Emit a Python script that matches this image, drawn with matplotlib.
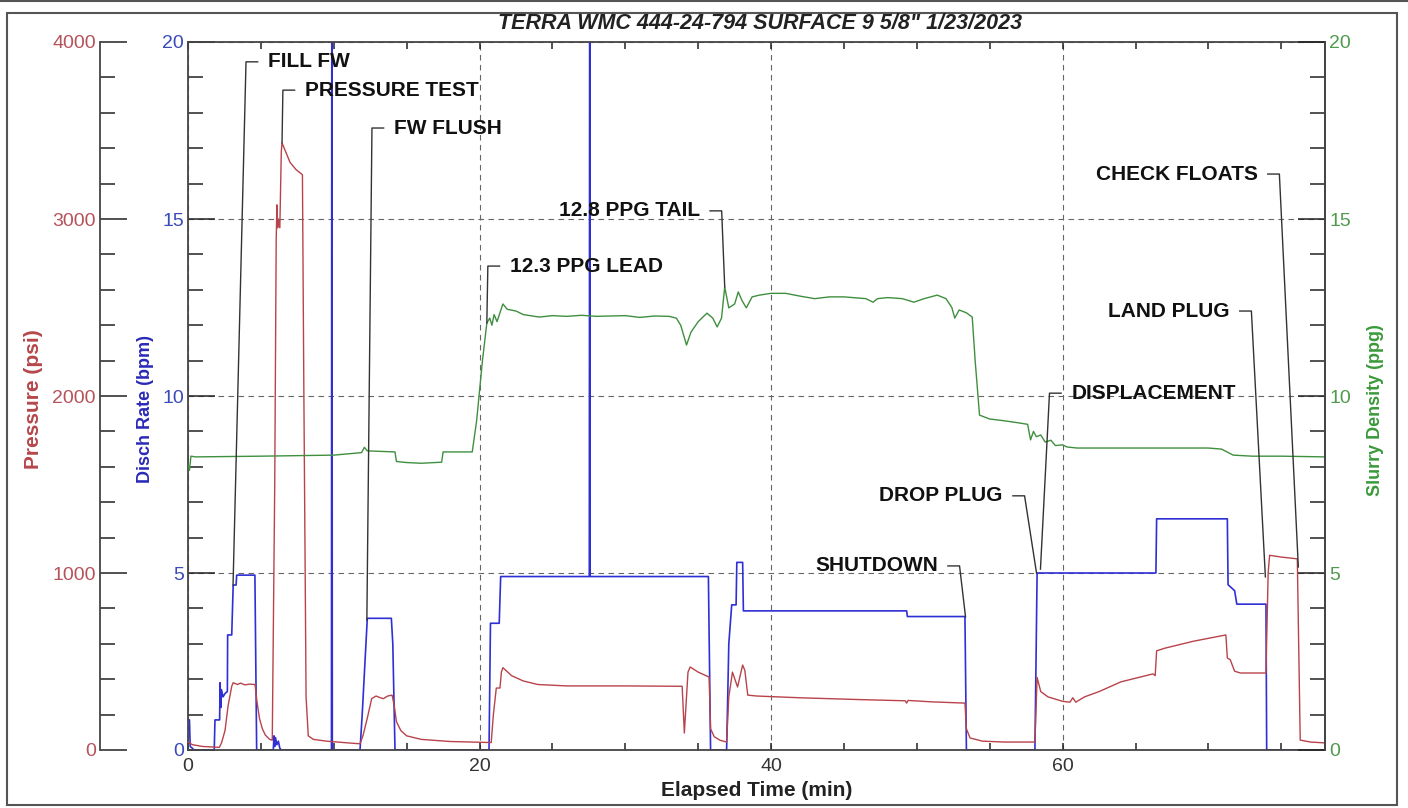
import matplotlib
matplotlib.use("Agg")
import matplotlib.pyplot as plt
from matplotlib.patches import Rectangle
from matplotlib.lines import Line2D
from matplotlib.ticker import MultipleLocator

plt.rcParams["font.family"] = ["Liberation Sans", "DejaVu Sans"]

# --- data ---
rate_t = [0.0, 0.1, 0.15, 0.3, 0.4, 1.80, 1.85, 2.17, 2.2, 2.25, 2.3, 2.4, 2.55, 2.7, 2.72, 3.0,
          3.1, 3.3, 3.34, 4.59, 4.71, 5.85, 5.9, 5.95, 6.0, 6.1, 6.2, 6.3, 6.4, 9.84, 9.87, 9.90,
          11.8, 11.95, 12.3, 13.95, 14.05, 14.2, 20.65, 20.75, 21.35, 21.45, 21.6, 27.53, 27.56,
          27.59, 35.7, 35.85, 36.95, 37.1, 37.3, 37.6, 37.65, 38.05, 38.1, 38.4, 38.45, 49.3,
          49.35, 53.3, 53.4, 58.1, 58.25, 66.4, 66.45, 71.3, 71.35, 71.8, 71.95, 73.95, 74.0, 78.0]
rate_v = [0.85, 0.85, 0.1, 0.05, 0.0, 0.0, 0.85, 0.85, 1.9, 1.2, 1.7, 1.5, 1.6, 1.65, 3.25, 3.25,
          4.66, 4.66, 4.94, 4.94, 0.0, 0.0, 0.4, 0.1, 0.35, 0.15, 0.25, 0.05, 0.0, 0.0, 25.0, 0.0,
          0.0, 1.0, 3.72, 3.72, 3.0, 0.0, 0.0, 3.58, 3.58, 4.9, 4.9, 4.9, 25.0,
          4.9, 4.9, 0.0, 0.0, 3.0, 4.1, 4.1, 5.3, 5.3, 3.93, 3.93, 3.93, 3.93,
          3.77, 3.77, 0.0, 0.0, 5.0, 5.0, 6.53, 6.53, 4.67, 4.5, 4.12, 4.12, 0.0, 0.0]

pres_t = [0.0, 0.3, 1.0, 2.15, 2.3, 2.54, 2.75, 3.0, 3.1, 3.4, 3.6, 3.9, 4.2, 4.6, 4.72, 4.9,
          5.1, 5.3, 5.6, 5.78, 5.95, 6.05, 6.1, 6.15, 6.2, 6.3, 6.4, 6.45, 6.7, 7.0, 7.4, 7.85,
          7.95, 8.1, 8.25, 8.6, 9.5, 11.0, 11.8, 12.0, 12.3, 12.6, 12.9, 13.2, 13.4, 13.7, 14.0,
          14.15, 14.3, 14.6, 15.0, 16.0, 18.0, 20.8, 20.95, 21.15, 21.4, 21.5, 21.6, 22.2, 23.0,
          24.0, 26.0, 30.0, 33.9, 34.05, 34.3, 34.45, 35.0, 35.75, 35.85, 36.1, 36.5, 36.95,
          37.1, 37.35, 37.7, 38.05, 38.2, 38.4, 39.0, 42.0, 46.0, 49.2, 49.3, 49.4, 51.0, 53.3,
          53.4, 53.65, 54.5, 56.0, 58.1, 58.25, 58.5, 59.0, 60.0, 60.5, 60.7, 60.9, 61.5, 62.5,
          64.0, 66.2, 66.35, 66.45, 67.0, 69.0, 71.2, 71.3, 71.5, 71.8, 72.2, 73.95, 74.1, 74.2,
          75.0, 76.1, 76.3, 77.0, 78.0]
pres_v = [45, 30, 20, 15, 40, 110, 250, 360, 380, 370, 378, 368, 372, 370, 280, 180,
          120, 85, 60, 55, 1500, 2880, 3080, 2950, 3000, 2950, 3380, 3430, 3380, 3320, 3280, 3250,
          2000, 300, 80, 60, 50, 40, 35, 80, 180, 290, 305, 295, 290, 305, 310,
          250, 160, 110, 80, 60, 48, 42, 200, 350, 350, 440, 465, 420, 390,
          370, 362, 362, 360, 96, 440, 469, 440, 412, 120, 75, 55, 45,
          300, 440, 356, 480, 450, 310, 305, 295, 285, 278, 265, 280, 272, 265,
          120, 68, 50, 45, 45, 410, 330, 300, 275, 270, 295, 270, 300, 330,
          385, 430, 420, 560, 575, 615, 650, 520, 510, 445, 435, 435, 1000, 1100,
          1090, 1080, 56, 45, 40]

dens_t = [0.0, 0.1, 0.2, 0.5, 5.0, 10.0, 11.9, 12.1, 12.3, 14.2, 14.3, 15.0, 16.0, 17.4, 17.5,
          19.5, 19.8, 20.2, 20.5, 20.7, 20.85, 21.0, 21.2, 21.6, 21.9, 22.5, 23.0, 24.1, 25.0,
          26.0, 27.0, 28.0, 30.0, 31.0, 32.0, 33.0, 33.5, 33.8, 34.2, 34.5, 35.0, 35.6, 36.0,
          36.3, 36.6, 36.82, 37.1, 37.5, 37.75, 38.0, 38.3, 38.7, 39.2, 40.0, 41.0, 42.0, 43.0,
          44.0, 45.0, 46.5, 47.0, 47.3, 48.0, 49.0, 49.8, 50.5, 51.4, 52.0, 52.4, 52.6, 52.9,
          53.4, 53.8, 54.0, 54.3, 55.0, 56.0, 57.0, 57.6, 57.8, 58.0, 58.2, 58.5, 58.8, 59.2,
          59.5, 60.0, 60.3, 61.0, 65.0, 70.0, 70.9, 71.7, 73.0, 75.0, 78.0]
dens_v = [8.05, 7.9, 8.3, 8.28, 8.3, 8.33, 8.4, 8.55, 8.45, 8.42, 8.15, 8.12, 8.1, 8.13, 8.42,
          8.42, 9.3, 11.0, 12.06, 12.2, 12.0, 12.3, 12.1, 12.6, 12.45, 12.4, 12.3, 12.23, 12.27,
          12.25, 12.28, 12.25, 12.27, 12.22, 12.26, 12.25, 12.2, 12.0, 11.44, 11.8, 12.1, 12.34, 12.2,
          11.95, 12.2, 13.08, 12.49, 12.6, 12.94, 12.7, 12.49, 12.8, 12.85, 12.9, 12.9, 12.82, 12.75,
          12.8, 12.8, 12.75, 12.65, 12.75, 12.78, 12.75, 12.65, 12.75, 12.85, 12.75, 12.5, 12.2, 12.43,
          12.35, 12.23, 11.0, 9.46, 9.35, 9.3, 9.24, 9.2, 8.76, 9.0, 8.85, 8.9, 8.7, 8.75,
          8.6, 8.62, 8.56, 8.53, 8.53, 8.53, 8.5, 8.33, 8.3, 8.3, 8.28]

# job events: label, time of the marked point, level on the 0-20 scale
event_labels = ["FILL FW", "PRESSURE TEST", "FW FLUSH", "12.3 PPG LEAD", "12.8 PPG TAIL",
                "SHUTDOWN", "DROP PLUG", "DISPLACEMENT", "LAND PLUG", "CHECK FLOATS"]
event_t = [3.09, 6.45, 12.27, 20.5, 36.82, 53.34, 58.21, 58.48, 73.91, 76.17]
event_v = [4.66, 17.15, 3.67, 12.06, 13.08, 3.76, 5.0, 5.11, 4.89, 5.17]
# where each label's leader bends, and which side the text sits
label_t = [3.98, 6.51, 12.62, 20.57, 36.61, 52.93, 57.39, 59.10, 72.95, 74.87]
label_v = [19.44, 18.64, 17.57, 13.67, 15.23, 5.20, 7.18, 10.08, 12.40, 16.27]
label_side = [1, 1, 1, 1, -1, -1, -1, 1, -1, -1]

RED = "#b8434a"
BLUE = "#2f2fd6"
GREEN = "#3f8f3f"
AX = "#444444"
TICK_FS = 14

fig = plt.figure(figsize=(14.08, 8.08), dpi=100)
ax = fig.add_axes([188 / 1408, 1 - 750 / 808, 1137 / 1408, 708 / 808])
axp = ax.twinx()
axd = ax.twinx()

# rate axis (main, left spine)
ax.set_xlim(0, 78)
ax.set_ylim(0, 20)
ax.xaxis.set_major_locator(MultipleLocator(20))
ax.xaxis.set_minor_locator(MultipleLocator(5))
ax.yaxis.set_major_locator(MultipleLocator(5))
ax.yaxis.set_minor_locator(MultipleLocator(1))
ax.tick_params(axis="y", which="major", direction="in", length=19.5, width=1.1,
               color="#222222", labelcolor="#3a4ab8", labelsize=TICK_FS, pad=3)
ax.tick_params(axis="y", which="minor", direction="in", length=11, width=1.1, color="#222222")
ax.tick_params(axis="x", which="both", direction="in", length=5, width=1.1, top=True,
               color="#222222", labelcolor="#333333", labelsize=TICK_FS, pad=6)
ax.grid(True, which="major", linestyle=(0, (5, 4)), color="#666666", linewidth=0.8)
for s in ax.spines.values():
    s.set_color(AX)
    s.set_linewidth(1.3)

# pressure axis, spine pushed out to the left
axp.set_ylim(0, 4000)
axp.spines["left"].set_position(("axes", -88 / 1137))
axp.spines["left"].set_visible(True)
axp.spines["left"].set_color(AX)
axp.spines["left"].set_linewidth(1.3)
axp.spines["right"].set_visible(False)
axp.spines["top"].set_visible(False)
axp.spines["bottom"].set_visible(False)
axp.yaxis.set_ticks_position("left")
axp.yaxis.set_major_locator(MultipleLocator(1000))
axp.yaxis.set_minor_locator(MultipleLocator(200))
axp.tick_params(axis="y", which="major", direction="in", length=19.5, width=1.1,
                color="#222222", labelcolor="#b5525a", labelsize=TICK_FS, pad=3)
axp.tick_params(axis="y", which="minor", direction="in", length=11, width=1.1, color="#222222")

# density axis, right
axd.set_ylim(0, 20)
axd.spines["right"].set_color(AX)
axd.spines["right"].set_linewidth(1.3)
for k in ("left", "top", "bottom"):
    axd.spines[k].set_visible(False)
axd.yaxis.set_major_locator(MultipleLocator(5))
axd.yaxis.set_minor_locator(MultipleLocator(1))
axd.tick_params(axis="y", which="major", direction="in", length=19.5, width=1.1,
                color="#222222", labelcolor="#4f9a4f", labelsize=TICK_FS, pad=3)
axd.tick_params(axis="y", which="minor", direction="in", length=11, width=1.1, color="#222222")

axp.plot(pres_t, pres_v, color=RED, lw=1.0)
ax.plot(rate_t, rate_v, color=BLUE, lw=1.2)
axd.plot(dens_t, dens_v, color=GREEN, lw=1.0)

# event leaders and labels
for lab, et, ev, lt, lv, sd in zip(event_labels, event_t, event_v, label_t, label_v, label_side):
    axd.plot([lt + sd * 0.8, lt, et], [lv, lv, ev], color="#333333", lw=1.0)
    axd.text(lt + sd * 1.5, lv, lab, ha="left" if sd > 0 else "right", va="center",
             fontsize=15, fontweight="bold", color="#111111")

fig.text(0.54, 0.971, 'TERRA WMC 444-24-794 SURFACE 9 5/8" 1/23/2023', ha="center", va="center",
         fontsize=15.5, fontweight="bold", fontstyle="italic", color="#222222")
fig.text(0.5376, 0.022, "Elapsed Time (min)", ha="center", va="center", fontsize=15,
         fontweight="bold", color="#222222")
fig.text(0.0235, 0.506, "Pressure (psi)", rotation=90, ha="center", va="center", fontsize=15,
         fontweight="bold", color="#b5474b")
fig.text(0.103, 0.494, "Disch Rate (bpm)", rotation=90, ha="center", va="center", fontsize=13,
         fontweight="bold", color="#2a2ab8")
fig.text(0.9766, 0.4926, "Slurry Density (ppg)", rotation=90, ha="center", va="center",
         fontsize=13, fontweight="bold", color="#3a9a3a")

# outer frame
fig.add_artist(Rectangle((7 / 1408, 1 - 805 / 808), 1390 / 1408, 792 / 808,
                         transform=fig.transFigure, fill=False, ec="#555555", lw=1.5))
fig.add_artist(Line2D([0, 1], [0.999, 0.999], transform=fig.transFigure, color="#555555", lw=1.5))

fig.savefig("out.png", dpi=100)
